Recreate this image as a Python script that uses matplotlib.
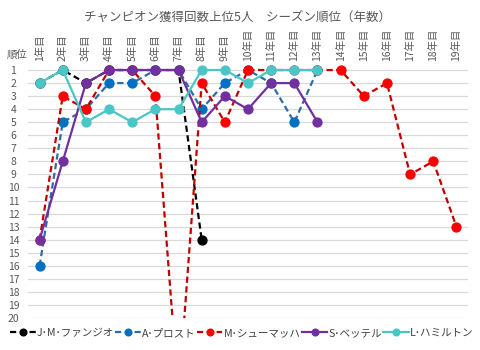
import numpy as np
import matplotlib.pyplot as plt

plt.rcParams['font.family'] = ['Noto Sans CJK JP', 'DejaVu Sans']

# seasons 1..19, rank per season
years = [f'{i}年目' for i in range(1, 20)]
fangio = [2, 1, 2, 1, 1, 1, 1, 14]
prost = [16, 5, 4, 2, 2, 1, 1, 4, 2, 1, 2, 5, 1]
schumacher = [14, 3, 4, 1, 1, 3, 26, 2, 5, 1, 1, 1, 1, 1, 3, 2, 9, 8, 13]  # 7年目 = 失格 (off scale)
vettel = [14, 8, 2, 1, 1, 1, 1, 5, 3, 4, 2, 2, 5]
hamilton = [2, 1, 5, 4, 5, 4, 4, 1, 1, 2, 1, 1, 1]

names = ['J･M･ファンジオ', 'A･プロスト', 'M･シューマッハ', 'S･ベッテル', 'L･ハミルトン']
series = [fangio, prost, schumacher, vettel, hamilton]
line_colors = ['#000000', '#2E6DA4', '#C00000', '#7030A0', '#4BC6C6']
marker_colors = ['#000000', '#0070C0', '#FF0000', '#7030A0', '#4BC6C6']
styles = ['--', '--', '--', '-', '-']

fig = plt.figure(figsize=(4.8, 3.5), dpi=100)
ax = fig.add_axes([28 / 480, 32 / 350, 440 / 480, 254.5 / 350])

for vals, name, lc, mc, ls in zip(series, names, line_colors, marker_colors, styles):
    x = np.arange(1, len(vals) + 1)
    line, = ax.plot(x, vals, color=lc, lw=1.6, ls=ls, marker='o', ms=6.4,
                    mfc=mc, mec=mc, label=name, clip_on=True)
    if ls == '--':
        line.set_dashes((2.8, 1.6))

ax.set_xlim(0.5, 19.5)
ax.set_ylim(20, 0.5)
ax.set_yticks(range(1, 21))
ax.set_xticks(range(1, 20))
ax.set_xticklabels(years, rotation=90)
ax.xaxis.tick_top()
ax.tick_params(axis='x', length=0, pad=1.5, labelsize=7.5, labelcolor='#595959')
ax.tick_params(axis='y', length=0, pad=10.5, labelsize=7.5, labelcolor='#595959')
for lbl in ax.get_yticklabels():
    lbl.set_horizontalalignment('center')
for s in ax.spines.values():
    s.set_visible(False)
ax.grid(axis='y', color='#D9D9D9', lw=0.9)
ax.set_axisbelow(True)

fig.text(17 / 480, 1 - 55 / 350, '順位', ha='center', va='center', fontsize=7.5, color='#595959')
fig.text(238 / 480, 1 - 17 / 350, 'チャンピオン獲得回数上位5人　シーズン順位（年数）',
         ha='center', va='center', fontsize=9, color='#595959')

fig.legend(loc='center', bbox_to_anchor=(242 / 480, 1 - 333 / 350), ncol=5, frameon=False,
           fontsize=7.6, handlelength=2.4, handletextpad=0.15, columnspacing=0.1,
           markerscale=0.75, labelcolor='#404040', borderaxespad=0, borderpad=0)

fig.savefig('out.png', dpi=100)
